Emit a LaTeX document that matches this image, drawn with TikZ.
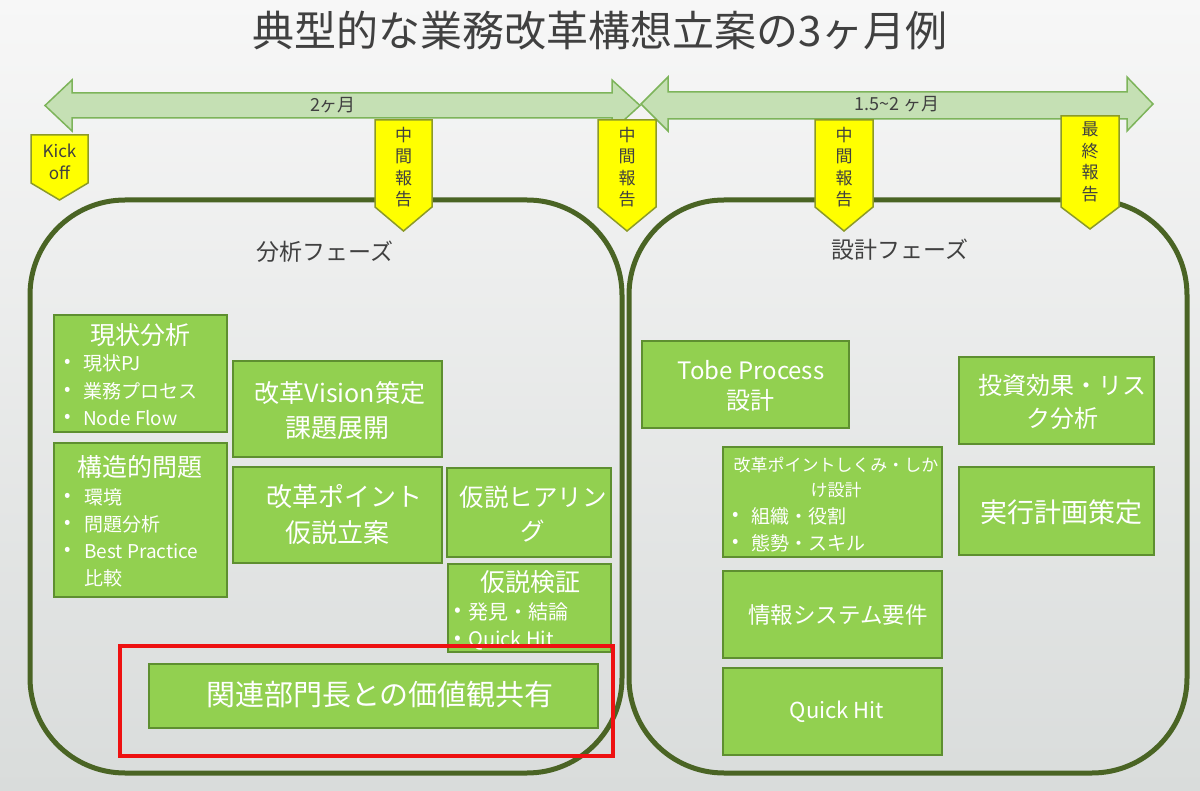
\documentclass[tikz,border=0pt]{standalone}
\usepackage{fontspec}
\setmainfont{Noto Sans CJK JP}
\definecolor{bgtop}{HTML}{F7F7F7}
\definecolor{bgbot}{HTML}{D9DCDB}
\definecolor{txt}{HTML}{404040}
\definecolor{arrfill}{HTML}{C5E0B4}
\definecolor{arrline}{HTML}{7DB45A}
\definecolor{yel}{HTML}{FFFF00}
\definecolor{yelline}{HTML}{8C9A28}
\definecolor{phase}{HTML}{4A6424}
\definecolor{gfill}{HTML}{92D050}
\definecolor{gline}{HTML}{5E8F30}
\definecolor{redline}{HTML}{EE1111}
\newcommand{\fs}[1]{\fontsize{#1pt}{\dimexpr #1pt*6/5\relax}\selectfont}
\tikzset{
  dblarrow/.style={fill=arrfill, draw=arrline, line width=1.5pt, line join=miter},
  flag/.style={fill=yel, draw=yelline, line width=1.5pt},
  flagtext/.style={text=txt, align=center, inner sep=0pt, font=\fontsize{17pt}{21.5pt}\selectfont},
  phasebox/.style={draw=phase, line width=5pt, rounded corners=95pt},
  gbox/.style={draw=gline, fill=gfill, line width=1.2pt, inner sep=0pt},
  wtext/.style={text=white, inner sep=0pt, align=center},
  bul/.style={text=white, inner sep=0pt, anchor=west},
}
\begin{document}
\begin{tikzpicture}[x=1pt, y=-1pt]
\useasboundingbox (0,0) rectangle (1200,791);
\shade[top color=bgtop, bottom color=bgbot] (0,0) rectangle (1200,791);

% title
\node[text=txt, inner sep=0pt] (title) at (600,31) {\fs{42}典型的な業務改革構想立案の3ヶ月例};

% phases
\draw[phasebox] (30,200) rectangle (622,773);
\draw[phasebox] (629,200) rectangle (1187,773);
\node[text=txt, inner sep=0pt] (ph1) at (325,252) {\fs{23}分析フェーズ};
\node[text=txt, inner sep=0pt] (ph2) at (900,250) {\fs{23}設計フェーズ};

% double arrows
\draw[dblarrow] (45,105.5) -- (72,80) -- (72,93) -- (612,93) -- (612,80) -- (640,105.5)
  -- (612,131) -- (612,118) -- (72,118) -- (72,131) -- cycle;
\node[text=txt, inner sep=0pt] (lab1) at (333,105) {\fs{18}2ヶ月};
\draw[dblarrow] (641,104) -- (668,77) -- (668,92) -- (1127,92) -- (1127,77) -- (1153,104)
  -- (1127,131) -- (1127,119) -- (668,119) -- (668,131) -- cycle;
\node[text=txt, inner sep=0pt] (lab2) at (897,104) {\fs{18}1.5\textasciitilde2 ヶ月};

% flags
\draw[flag] (31,135) -- (88,135) -- (88,183) -- (59.5,200) -- (31,183) -- cycle;
\node[flagtext] (kick) at (59.5,162) {Kick\\off};
\draw[flag] (375,120) -- (432,120) -- (432,207) -- (403.5,231) -- (375,207) -- cycle;
\node[flagtext] (m1) at (403.5,167) {中\\間\\報\\告};
\draw[flag] (598,120) -- (656,120) -- (656,207) -- (627,231) -- (598,207) -- cycle;
\node[flagtext] (m2) at (627,167) {中\\間\\報\\告};
\draw[flag] (815,120) -- (873,120) -- (873,207) -- (844,231) -- (815,207) -- cycle;
\node[flagtext] (m3) at (844,167) {中\\間\\報\\告};
\draw[flag] (1061,116) -- (1119,116) -- (1119,207) -- (1090,229) -- (1061,207) -- cycle;
\node[flagtext] (fin) at (1090,162) {最\\終\\報\\告};

% left boxes
\node[gbox, minimum width=173pt, minimum height=117pt] (b1) at (140.5,373.5) {};
\node[wtext] (b1t) at (140,335) {\fs{25}現状分析};
\node[bul] (b1a) at (64,363) {\fs{19}•};
\node[bul] (b1b) at (64,391) {\fs{19}•};
\node[bul] (b1c) at (64,418) {\fs{19}•};
\node[bul] (b1at) at (83,363) {\fs{19}現状PJ};
\node[bul] (b1bt) at (83,391) {\fs{19}業務プロセス};
\node[bul] (b1ct) at (83,418) {\fs{19}Node Flow};

\node[gbox, minimum width=173pt, minimum height=154pt] (b2) at (140.5,520) {};
\node[wtext] (b2t) at (140,467) {\fs{25}構造的問題};
\node[bul] (b2a) at (64,497) {\fs{19}•};
\node[bul] (b2b) at (64,524) {\fs{19}•};
\node[bul] (b2c) at (64,551) {\fs{19}•};
\node[bul] (b2at) at (84,497) {\fs{19}環境};
\node[bul] (b2bt) at (84,524) {\fs{19}問題分析};
\node[bul] (b2ct) at (84,551) {\fs{19}Best Practice};
\node[bul] (b2dt) at (84,578) {\fs{19}比較};

\node[gbox, minimum width=209pt, minimum height=96pt] (b3) at (337.5,409) {};
\node[wtext] (b3t) at (340,393) {\fs{25}改革Vision策定};
\node[wtext] (b3u) at (337.5,428) {\fs{26}課題展開};

\node[gbox, minimum width=209pt, minimum height=96pt] (b4) at (337.5,515) {};
\node[wtext] (b4t) at (344,497) {\fs{26}改革ポイント};
\node[wtext] (b4u) at (337.5,533) {\fs{26}仮説立案};

\node[gbox, minimum width=164pt, minimum height=89pt] (b5) at (529,512.5) {};
\node[wtext] (b5t) at (533,497) {\fs{24.5}仮説ヒアリン};
\node[wtext] (b5u) at (533,531) {\fs{24.5}グ};

\node[gbox, minimum width=163pt, minimum height=88pt] (b6) at (529.5,608) {};
\node[wtext] (b6t) at (530,582) {\fs{25}仮説検証};
\begin{scope}
\clip (448,564) rectangle (611,652);
\node[bul] (b6a) at (454,612) {\fs{20}•};
\node[bul] (b6at) at (468,612) {\fs{20}発見・結論};
\node[bul] (b6b) at (454,640) {\fs{20}•};
\node[bul] (b6bt) at (468,640) {\fs{20}Quick Hit};
\end{scope}

\node[gbox, minimum width=449pt, minimum height=64pt] (b7) at (373.5,696) {};
\node[wtext] (b7t) at (380,695) {\fs{29}関連部門長との価値観共有};

% right boxes
\node[gbox, minimum width=207pt, minimum height=87pt] (b8) at (745.5,384.5) {};
\node[wtext] (b8t) at (751,370) {\fs{24}Tobe Process};
\node[wtext] (b8u) at (750,400) {\fs{24}設計};

\node[gbox, minimum width=195pt, minimum height=87pt] (b9) at (1056.5,400.5) {};
\node[wtext] (b9t) at (1062,385) {\fs{24}投資効果・リス};
\node[wtext] (b9u) at (1062,418) {\fs{24}ク分析};

\node[gbox, minimum width=195pt, minimum height=88pt] (b10) at (1056.5,511) {};
\node[wtext] (b10t) at (1061,512) {\fs{27}実行計画策定};

\node[gbox, minimum width=219pt, minimum height=110pt] (b11) at (832.5,502) {};
\node[wtext] (b11t) at (836,465) {\fs{17}改革ポイントしくみ・しか};
\node[wtext] (b11u) at (836,490) {\fs{17}け設計};
\node[bul] (b11a) at (732,516) {\fs{19}•};
\node[bul] (b11b) at (732,543) {\fs{19}•};
\node[bul] (b11at) at (751,516) {\fs{19}組織・役割};
\node[bul] (b11bt) at (751,543) {\fs{19}態勢・スキル};

\node[gbox, minimum width=219pt, minimum height=87pt] (b12) at (832.5,614.5) {};
\node[wtext] (b12t) at (838,615) {\fs{22.5}情報システム要件};

\node[gbox, minimum width=219pt, minimum height=87pt] (b13) at (832.5,711.5) {};
\node[wtext] (b13t) at (837,712) {\fs{22}Quick Hit};

% red highlight
\draw[draw=redline, line width=4.5pt] (120,646) rectangle (613,756);
\end{tikzpicture}
\end{document}
